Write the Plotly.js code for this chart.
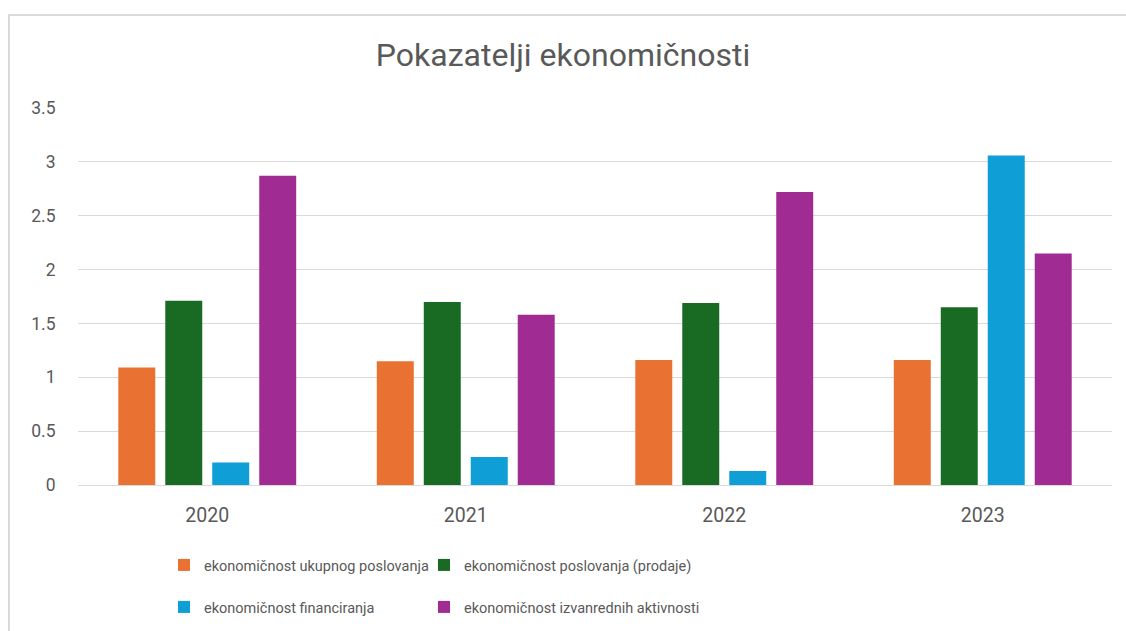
<!DOCTYPE html>
<html>
<head>
<meta charset="utf-8">
<script src="https://cdn.plot.ly/plotly-3.0.1.min.js"></script>
<style>
  html, body { margin: 0; padding: 0; background: #ffffff; }
  #wrap { position: relative; width: 1126px; height: 631px; overflow: hidden; }
  #chart { position: absolute; left: 0; top: 0; width: 1126px; height: 631px; }
  #frame { position: absolute; left: 8px; top: 14px; width: 1300px; height: 700px;
           border: 2px solid #dadada; pointer-events: none; }
</style>
</head>
<body>
<div id="wrap">
  <div id="chart"></div>
  <div id="frame"></div>
</div>
<script>
const years = ['2020', '2021', '2022', '2023'];
const seriesNames = [
  'ekonomičnost ukupnog poslovanja',
  'ekonomičnost poslovanja (prodaje)',
  'ekonomičnost financiranja',
  'ekonomičnost izvanrednih aktivnosti'
];
const ukupnogPoslovanja = [1.09, 1.15, 1.16, 1.16];
const poslovanjaProdaje = [1.71, 1.70, 1.69, 1.65];
const financiranja = [0.21, 0.26, 0.13, 3.06];
const izvanrednihAktivnosti = [2.87, 1.58, 2.72, 2.15];
const colors = ['#E97132', '#196B24', '#0F9ED5', '#A02B93'];
const yTicks = [0, 0.5, 1, 1.5, 2, 2.5, 3, 3.5];
const yTickText = ['0', '0.5', '1', '1.5', '2', '2.5', '3', '3.5'];

const values = [ukupnogPoslovanja, poslovanjaProdaje, financiranja, izvanrednihAktivnosti];
const legendIds = ['legend', 'legend2', 'legend3', 'legend4'];

const FONT = 'Roboto, "Open Sans", Arial, sans-serif';
const GREY = '#595959';

const traces = values.map((v, i) => ({
  type: 'bar',
  name: seriesNames[i],
  x: years,
  y: v,
  marker: { color: colors[i], line: { width: 0 } },
  legend: legendIds[i],
  hoverinfo: 'x+y+name'
}));

// legend placement (pixel anchors converted to paper / container fractions)
const legendPos = [
  { px: 164, py: 565 },
  { px: 424, py: 565 },
  { px: 164, py: 607 },
  { px: 424, py: 607 }
];

const layout = {
  width: 1126,
  height: 631,
  paper_bgcolor: '#ffffff',
  plot_bgcolor: '#ffffff',
  font: { family: FONT, color: GREY, size: 16 },
  margin: { l: 78, r: 14, t: 108, b: 146 },
  title: {
    text: 'Pokazatelji ekonomičnosti',
    font: { family: FONT, size: 32, color: GREY },
    x: 0.5, xanchor: 'center',
    y: 1 - 55 / 631, yanchor: 'middle', yref: 'container'
  },
  barmode: 'group',
  bargap: 0.273,
  bargroupgap: 0.213,
  xaxis: {
    type: 'category',
    showgrid: false,
    showline: true,
    linecolor: '#d9d9d9',
    linewidth: 1,
    ticks: 'outside',
    ticklen: 13,
    tickcolor: 'rgba(0,0,0,0)',
    tickfont: { family: FONT, size: 19.5, color: GREY },
    zeroline: false
  },
  yaxis: {
    range: [0, 3.5],
    tickvals: yTicks,
    ticktext: yTickText,
    showgrid: true,
    gridcolor: '#d9d9d9',
    gridwidth: 1,
    zeroline: false,
    showline: false,
    ticks: 'outside',
    ticklen: 18,
    tickcolor: 'rgba(0,0,0,0)',
    tickfont: { family: FONT, size: 17.5, color: GREY }
  },
  showlegend: true
};

legendIds.forEach((id, i) => {
  layout[id] = {
    orientation: 'h',
    x: (legendPos[i].px - 78) / 1034, xanchor: 'left',
    y: 1 - legendPos[i].py / 631, yref: 'container', yanchor: 'middle',
    itemwidth: 30,
    font: { family: FONT, size: 14.5, color: GREY },
    bgcolor: 'rgba(0,0,0,0)'
  };
});

Plotly.newPlot('chart', traces, layout, { displayModeBar: false, responsive: false });
</script>
</body>
</html>
